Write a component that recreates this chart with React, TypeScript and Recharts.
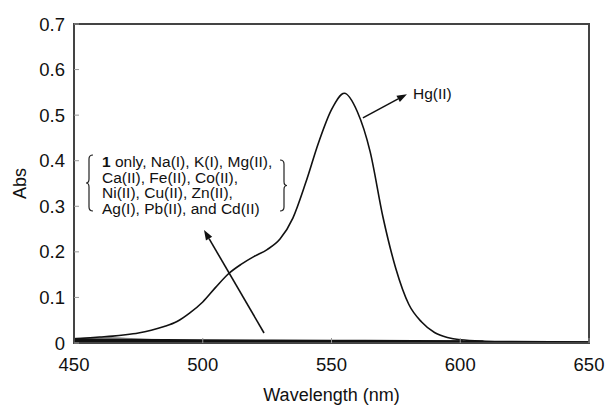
import React from "react";
import { LineChart, Line, XAxis, YAxis, ReferenceLine, ReferenceArea, Label } from "recharts";

// Hg(II) spectrum
const hgWavelengths = [
  450, 455, 460, 465, 470, 475, 480, 485, 490, 495, 500, 505, 510, 515, 520, 525, 530,
  535, 540, 545, 550, 555, 560, 565, 570, 575, 580, 585, 590, 595, 600, 610, 620, 650,
];
const hgAbs = [
  0.009, 0.011, 0.013, 0.015, 0.018, 0.022, 0.028, 0.036, 0.047, 0.066, 0.09, 0.122, 0.152,
  0.173, 0.19, 0.205, 0.228, 0.274, 0.352, 0.44, 0.512, 0.548, 0.508, 0.42, 0.276, 0.163, 0.085,
  0.046, 0.023, 0.012, 0.007, 0.004, 0.003, 0.002,
];

// "1 only" and the other ions, all lying on the baseline
const baseAWl = [450, 470, 500, 550, 601];
const baseAAbs = [0.008, 0.007, 0.006, 0.005, 0.004];
const baseBWl = [450, 500, 550, 609];
const baseBAbs = [0.004, 0.004, 0.003, 0.003];
const baseCWl = [450, 455, 462, 470, 480];
const baseCAbs = [0.009, 0.01, 0.011, 0.009, 0.006];
const baseDWl = [450, 550, 650];
const baseDAbs = [0.001, 0.001, 0.001];

const xTicks = [450, 500, 550, 600, 650];
const yTicks = [0, 0.1, 0.2, 0.3, 0.4, 0.5, 0.6, 0.7];

const zip = (xs: number[], ys: number[]) => xs.map((wl, i) => ({ wl, abs: ys[i] }));

const hgData = zip(hgWavelengths, hgAbs);
const baseA = zip(baseAWl, baseAAbs);
const baseB = zip(baseBWl, baseBAbs);
const baseC = zip(baseCWl, baseCAbs);
const baseD = zip(baseDWl, baseDAbs);

const FONT = '"Liberation Sans", Arial, sans-serif';

function Arrow(p: any) {
  const { x1, y1, x2, y2 } = p;
  const a = Math.atan2(y2 - y1, x2 - x1);
  const L = 10;
  const W = 3.6;
  const bx = x2 - L * Math.cos(a);
  const by = y2 - L * Math.sin(a);
  const pts = `${x2},${y2} ${bx - W * Math.sin(a)},${by + W * Math.cos(a)} ${bx + W * Math.sin(a)},${by - W * Math.cos(a)}`;
  return (
    <g>
      <line x1={x1} y1={y1} x2={bx} y2={by} stroke="#111" strokeWidth={1.6} />
      <polygon points={pts} fill="#111" />
    </g>
  );
}

function brace(xv: number, y0: number, y1: number, dir: number) {
  // dir = 1: "{" (tip points left), dir = -1: "}" (tip points right)
  const hook = xv + 4 * dir;
  const tip = xv - 3 * dir;
  const ym = (y0 + y1) / 2;
  return `M ${hook} ${y0} Q ${xv} ${y0} ${xv} ${y0 + 4} L ${xv} ${ym - 4} Q ${xv} ${ym} ${tip} ${ym} Q ${xv} ${ym} ${xv} ${ym + 4} L ${xv} ${y1 - 4} Q ${xv} ${y1} ${hook} ${y1}`;
}

export default function App() {
  return (
    <div style={{ position: "absolute", left: 0, top: 0, width: 608, height: 408, background: "#fff" }}>
      <LineChart width={608} height={408} margin={{ top: 24, right: 19, bottom: 0, left: 0 }}>
        <XAxis
          dataKey="wl"
          type="number"
          domain={[450, 650]}
          ticks={xTicks}
          allowDataOverflow
          height={65}
          axisLine={{ stroke: "#444", strokeWidth: 2 }}
          tickLine={{ stroke: "#999" }}
          tickSize={-5}
          tickMargin={20}
          tick={{ fill: "#111", fontSize: 18.5, fontFamily: FONT }}
        >
          <Label
            content={({ viewBox }: any) => (
              <text
                x={viewBox.x + viewBox.width / 2}
                y={401}
                textAnchor="middle"
                fontSize={18}
                fontFamily={FONT}
                fill="#111"
              >
                Wavelength (nm)
              </text>
            )}
          />
        </XAxis>
        <YAxis
          dataKey="abs"
          type="number"
          domain={[0, 0.7]}
          ticks={yTicks}
          allowDataOverflow
          width={74}
          axisLine={{ stroke: "#444", strokeWidth: 2 }}
          tickLine={{ stroke: "#999" }}
          tickSize={-5}
          tickMargin={14}
          tickFormatter={(v: number) => String(v)}
          tick={{ fill: "#111", fontSize: 18.5, fontFamily: FONT }}
        >
          <Label
            content={({ viewBox }: any) => {
              const cy = viewBox.y + viewBox.height / 2;
              return (
                <text
                  x={26}
                  y={cy}
                  transform={`rotate(-90, 26, ${cy})`}
                  textAnchor="middle"
                  fontSize={18}
                  fontFamily={FONT}
                  fill="#111"
                >
                  Abs
                </text>
              );
            }}
          />
        </YAxis>
        <ReferenceArea x1={450} x2={650} y1={0} y2={0.7} fill="none" stroke="#444" strokeWidth={2} />
        <Line data={baseD} dataKey="abs" type="monotone" stroke="#111" strokeWidth={2.5} dot={false} isAnimationActive={false} />
        <Line data={baseC} dataKey="abs" type="monotone" stroke="#999" strokeWidth={2.5} dot={false} isAnimationActive={false} />
        <Line data={baseB} dataKey="abs" type="monotone" stroke="#111" strokeWidth={2.5} dot={false} isAnimationActive={false} />
        <Line data={baseA} dataKey="abs" type="monotone" stroke="#111" strokeWidth={2} dot={false} isAnimationActive={false} />
        <Line data={hgData} dataKey="abs" type="monotone" stroke="#111" strokeWidth={1.6} dot={false} isAnimationActive={false} />
        <ReferenceLine
          segment={[{ x: 562.2, y: 0.494 }, { x: 579.3, y: 0.546 }]}
          shape={Arrow}
        />
        <ReferenceLine
          segment={[{ x: 523.8, y: 0.022 }, { x: 500.5, y: 0.248 }]}
          shape={Arrow}
        />
      </LineChart>
      <svg
        width={608}
        height={408}
        style={{ position: "absolute", left: 0, top: 0, pointerEvents: "none" }}
      >
        <g fontFamily={FONT} fontSize={15.5} fill="#111">
          <text x={102} y={167}>
            <tspan fontWeight="bold">1</tspan> only, Na(I), K(I), Mg(II),
          </text>
          <text x={102} y={182.5}>Ca(II), Fe(II), Co(II),</text>
          <text x={102} y={198}>Ni(II), Cu(II), Zn(II),</text>
          <text x={102} y={214}>Ag(I), Pb(II), and Cd(II)</text>
          <text x={413} y={99}>Hg(II)</text>
        </g>
        <path d={brace(89, 155, 211, 1)} fill="none" stroke="#222" strokeWidth={1.2} />
        <path d={brace(284, 160, 211, -1)} fill="none" stroke="#222" strokeWidth={1.2} />
      </svg>
    </div>
  );
}
